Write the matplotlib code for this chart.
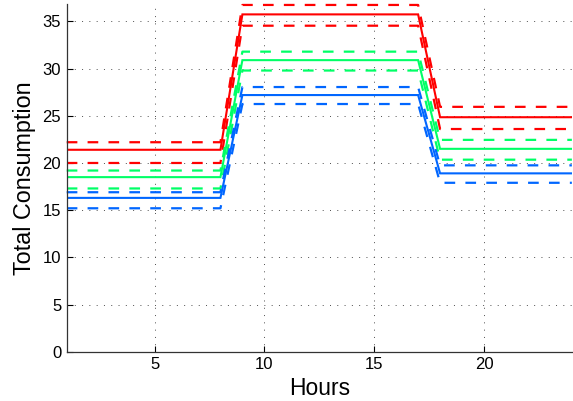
import numpy as np
import matplotlib
matplotlib.use('Agg')
import matplotlib.pyplot as plt

plt.rcParams['font.family'] = ['Liberation Sans', 'DejaVu Sans']

hours = np.arange(1, 25)

# red group: lower bound / mean / upper bound
red_lo = [20.0] * 8 + [34.55] * 9 + [23.6] * 7
red_mid = [21.4] * 8 + [35.75] * 9 + [24.85] * 7
red_hi = [22.2] * 8 + [36.75] * 9 + [25.95] * 7

# green group
green_lo = [17.3] * 8 + [29.8] * 9 + [20.35] * 7
green_mid = [18.5] * 8 + [30.9] * 9 + [21.5] * 7
green_hi = [19.2] * 8 + [31.8] * 9 + [22.45] * 7

# blue group
blue_lo = [15.2] * 8 + [26.25] * 9 + [17.9] * 7
blue_mid = [16.3] * 8 + [27.2] * 9 + [18.9] * 7
blue_hi = [16.9] * 8 + [28.05] * 9 + [19.75] * 7

groups = [
    ('#ff0000', red_lo, red_mid, red_hi),
    ('#00ff66', green_lo, green_mid, green_hi),
    ('#0066ff', blue_lo, blue_mid, blue_hi),
]

fig = plt.figure(figsize=(5.73, 4.01), dpi=100)
ax = fig.add_axes([0.1164, 0.123, 0.8816, 0.867])

for c, lo, mid, hi in groups:
    ax.plot(hours, mid, color=c, lw=1.5, solid_joinstyle='miter')
    ax.plot(hours, hi, color=c, lw=1.6, dashes=(4.8, 4.6), clip_on=False)
    ax.plot(hours, lo, color=c, lw=1.6, dashes=(4.8, 4.6))

ax.set_xlim(1, 24)
ax.set_ylim(0, 36.85)
ax.set_xticks([5, 10, 15, 20])
ax.set_yticks(np.arange(0, 36, 5))

ax.grid(True, color='0.3', linestyle=(0, (1, 6.5)), linewidth=0.7)
ax.spines['top'].set_visible(False)
ax.spines['right'].set_visible(False)
for s in ['left', 'bottom']:
    ax.spines[s].set_linewidth(0.9)
    ax.spines[s].set_color('0.2')
ax.tick_params(direction='in', length=4, width=0.8, labelsize=12, pad=4)

ax.set_xlabel('Hours', fontsize=16.5, labelpad=3.5)
ax.set_ylabel('Total Consumption', fontsize=16.8, labelpad=4.5)

fig.savefig('out.png', dpi=100)
